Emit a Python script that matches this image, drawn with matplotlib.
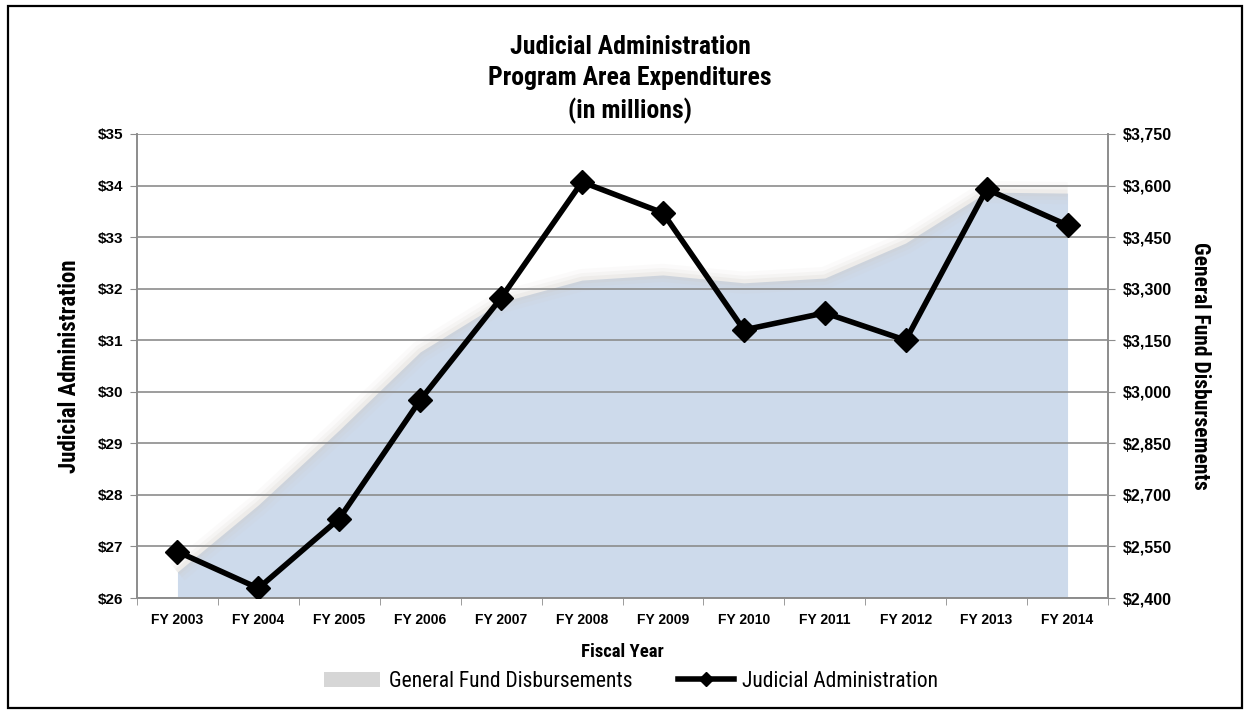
import matplotlib.pyplot as plt
from matplotlib import font_manager
from matplotlib.patches import Rectangle, Patch
from matplotlib.lines import Line2D
from matplotlib.ticker import FuncFormatter

years = ["FY 2003", "FY 2004", "FY 2005", "FY 2006", "FY 2007", "FY 2008",
         "FY 2009", "FY 2010", "FY 2011", "FY 2012", "FY 2013", "FY 2014"]
judicial = [26.9, 26.19, 27.54, 29.84, 31.82, 34.07, 33.47, 31.2, 31.53, 31.0, 33.93, 33.23]
general_fund = [2476, 2671, 2889, 3116, 3261, 3325, 3340, 3317, 3331, 3433, 3581, 3578]

installed = {f.name for f in font_manager.fontManager.ttflist}
cond = "Roboto Condensed" if "Roboto Condensed" in installed else "Liberation Sans"
plt.rcParams["font.family"] = ["Liberation Sans", "DejaVu Sans"]

fig = plt.figure(figsize=(12.5, 7.15), dpi=100)
ax = fig.add_axes([0.1096, 0.1636, 0.7768, 0.6490])
ax2 = ax.twinx()
x = list(range(len(years)))

# area on the right axis (drawn below the line), soft greyish edge
ax2.fill_between(x, 2400, general_fund, color="#cddaeb", lw=0, zorder=1)
for w, a in [(16, 0.08), (10, 0.12), (5, 0.18)]:
    ax2.plot(x, general_fund, color="#cfcac2", lw=w, alpha=a, solid_capstyle="butt", zorder=1)
ax2.set_ylim(2400, 3750)
ax2.set_yticks(range(2400, 3751, 150))
ax2.yaxis.set_major_formatter(FuncFormatter(lambda v, p: "${:,.0f}".format(v)))

# put the left axis on top
ax.set_zorder(ax2.get_zorder() + 1)
ax.patch.set_visible(False)

ax.set_ylim(26, 35)
ax.set_yticks(range(26, 36))
ax.yaxis.set_major_formatter(FuncFormatter(lambda v, p: "${:.0f}".format(v)))
ax.grid(axis="y", color="#8c8c8c", lw=1.2)
ax.set_axisbelow(True)
ax.plot(x, judicial, color="black", lw=4, marker="D", markersize=12, zorder=3)

ax.set_xlim(-0.5, len(years) - 0.5)
ax.set_xticks(x)
ax.set_xticklabels(years, fontsize=10, fontweight="bold")
ax.set_xticks([i + 0.5 for i in range(-1, len(years))], minor=True)
ax.tick_params(axis="x", which="major", length=0, pad=11)
ax.tick_params(axis="x", which="minor", length=5, color="#8c8c8c")
ax.tick_params(axis="y", length=5, color="#8c8c8c", labelsize=11, pad=5)
ax2.tick_params(axis="y", length=5, color="#8c8c8c", labelsize=11.5, pad=6)
for lab in ax.get_yticklabels() + ax2.get_yticklabels():
    lab.set_fontweight("bold")

for a in (ax, ax2):
    for s in a.spines.values():
        s.set_color("#8c8c8c")
        s.set_linewidth(1.2)
    a.spines["top"].set_visible(False)

ax.set_xlabel("Fiscal Year", fontsize=13.5, fontweight="bold", labelpad=11, family=cond)
ax.set_ylabel("Judicial Administration", fontsize=16.5, fontweight="bold", labelpad=12, family=cond)
ax2.set_ylabel("General Fund Disbursements", fontsize=15.5, fontweight="bold",
               rotation=270, labelpad=28, family=cond)

fig.text(0.504, 0.889, "Judicial Administration\nProgram Area Expenditures\n(in millions)",
         ha="center", va="center", fontsize=18.5, fontweight="bold", linespacing=1.36,
         family=cond)

handles = [Patch(facecolor="#d6d6d6", edgecolor="none"),
           Line2D([0], [0], color="black", lw=4, marker="D", markersize=7)]
fig.legend(handles, ["General Fund Disbursements", "Judicial Administration"],
           loc="center", bbox_to_anchor=(0.505, 0.047), ncol=2, frameon=False,
           prop={"family": cond, "size": 15.5}, handlelength=2.6, columnspacing=2.1,
           handletextpad=0.4)

fig.patches.append(Rectangle((0.0064, 0.01), 0.9872, 0.982, transform=fig.transFigure,
                             fill=False, edgecolor="black", lw=1.6))

fig.savefig("out.png", dpi=100)
